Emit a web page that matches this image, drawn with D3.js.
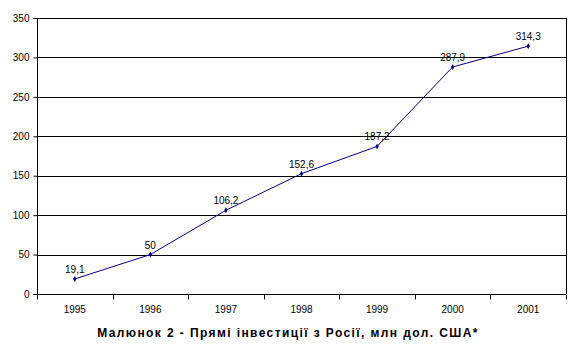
<!DOCTYPE html>
<html><head><meta charset="utf-8">
<script src="https://cdn.jsdelivr.net/npm/d3@7"></script>
<style>
html,body{margin:0;padding:0;background:#fff;}
svg{display:block;}
text{font-family:"Liberation Sans",Arial,sans-serif;}
</style></head>
<body>
<svg id="chart" width="576" height="356"></svg>
<script>
const years = ["1995","1996","1997","1998","1999","2000","2001"];
const values = [19.1, 50, 106.2, 152.6, 187.2, 287.9, 314.3];
const labels = ["19,1","50","106,2","152,6","187,2","287,9","314,3"];
const yTicks = [0,50,100,150,200,250,300,350];
const title = "Малюнок 2 - Прямі інвестиції з Росії, млн дол. США*";

const svg = d3.select("#chart");
const m = {left:37, right:10, top:18, bottom:62};
const W = 576, H = 356;
const x = d3.scaleBand().domain(years).range([m.left, W - m.right]).padding(0);
const y = d3.scaleLinear().domain([0,350]).range([H - m.bottom, m.top]);

// gridlines
svg.append("g").selectAll("line").data(yTicks.filter(d=>d>0)).join("line")
  .attr("x1", m.left).attr("x2", W - m.right)
  .attr("y1", d=>Math.round(y(d))+0.5).attr("y2", d=>Math.round(y(d))+0.5)
  .attr("stroke","#000").attr("stroke-width",1);
// right border
svg.append("line").attr("x1", W-m.right+0.5).attr("x2", W-m.right+0.5)
  .attr("y1", Math.round(y(350))).attr("y2", Math.round(y(0)))
  .attr("stroke","#000");

// y axis
const yAxis = svg.append("g").attr("transform",`translate(${m.left+0.5},0)`)
  .call(d3.axisLeft(y).tickValues(yTicks).tickSize(4).tickPadding(4).tickFormat(d3.format("d")));
yAxis.selectAll("text").attr("font-size",10).attr("fill","#000").attr("font-family","Liberation Sans, Arial, sans-serif");
yAxis.selectAll("line,path").attr("stroke","#000");
yAxis.select(".domain").attr("d",`M-4,${Math.round(y(350))+0.5}H0V${Math.round(y(0))+0.5}H-4`);

// x axis
const xa = svg.append("g").attr("transform",`translate(0,${Math.round(y(0))+0.5})`);
xa.append("line").attr("x1",m.left).attr("x2",W-m.right).attr("stroke","#000");
const bounds = years.map(d=>x(d)).concat([W-m.right]);
xa.selectAll("line.tk").data(bounds).join("line").attr("class","tk")
  .attr("x1",d=>Math.round(d)+0.5).attr("x2",d=>Math.round(d)+0.5).attr("y1",0).attr("y2",5)
  .attr("stroke","#000");
xa.selectAll("text").data(years).join("text")
  .attr("x",d=>x(d)+x.bandwidth()/2).attr("y",18)
  .attr("text-anchor","middle").attr("font-size",10).attr("fill","#000").text(d=>d);

// line
const line = d3.line().x((d,i)=>x(years[i])+x.bandwidth()/2).y(d=>y(d));
svg.append("path").datum(values).attr("d",line).attr("fill","none")
  .attr("stroke","#000080").attr("stroke-width",1);
svg.append("g").selectAll("path").data(values).join("path")
  .attr("transform",(d,i)=>`translate(${x(years[i])+x.bandwidth()/2},${y(d)})`)
  .attr("d",d3.symbol(d3.symbolDiamond,10)).attr("fill","#000080");

// labels
svg.append("g").selectAll("text").data(values).join("text")
  .attr("x",(d,i)=>x(years[i])+x.bandwidth()/2).attr("y",d=>y(d)-6)
  .attr("text-anchor","middle").attr("font-size",10).attr("fill","#000")
  .text((d,i)=>labels[i]);

// title
svg.append("text").attr("x",288).attr("y",337).attr("text-anchor","middle")
  .attr("font-size",12).attr("font-weight","bold").attr("letter-spacing","1.4px")
  .attr("fill","#000").text(title);
</script>
</body></html>
